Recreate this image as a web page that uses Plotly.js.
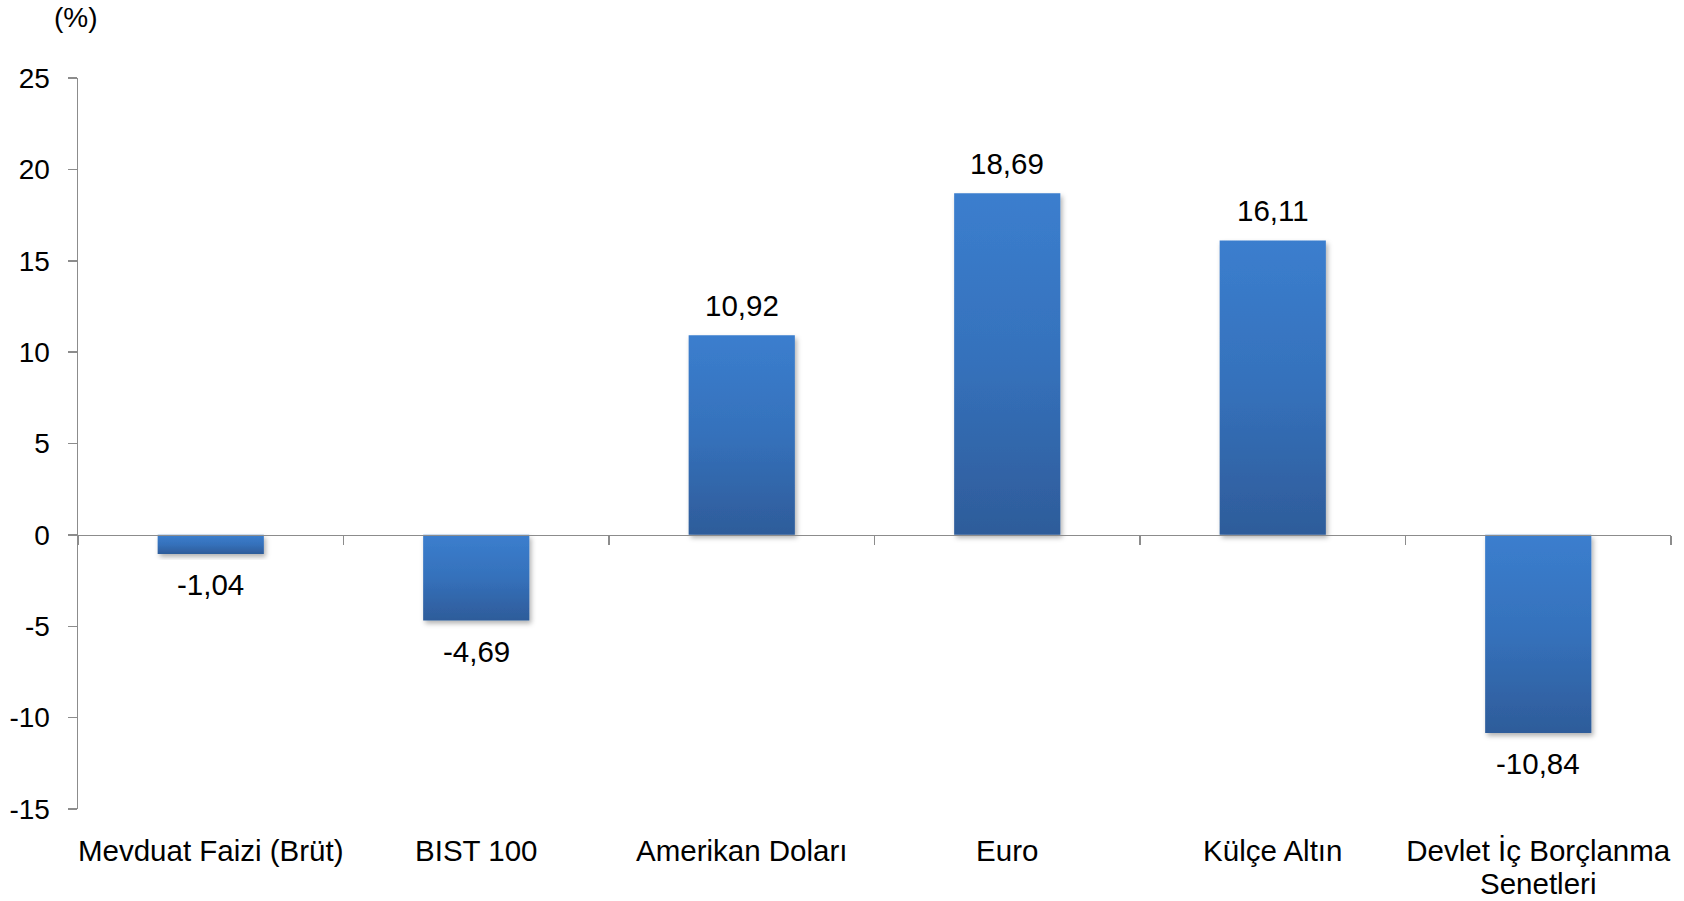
<!DOCTYPE html>
<html>
<head>
<meta charset="utf-8">
<script src="https://cdn.plot.ly/plotly-3.0.1.min.js"></script>
<style>
  html, body { margin: 0; padding: 0; background: #fff; }
  #chart { width: 1684px; height: 901px; }
</style>
</head>
<body>
<div id="chart"></div>
<script>
const categories = ["Mevduat Faizi (Brüt)", "BIST 100", "Amerikan Doları", "Euro", "Külçe Altın", "Devlet İç Borçlanma<br>Senetleri"];
const values = [-1.04, -4.69, 10.92, 18.69, 16.11, -10.84];
const yTickVals = [-15, -10, -5, 0, 5, 10, 15, 20, 25];
const yTickText = ["-15", "-10", "-5", "0", "5", "10", "15", "20", "25"];
const unitLabel = "(%)";

const FONT = "Liberation Sans, Arial, Helvetica, sans-serif";
const AXIS_COLOR = "#8c8c8c";

const fmt = v => v.toFixed(2).replace(".", ",");

const annotations = values.map((v, i) => ({
  x: categories[i], y: v, xref: "x", yref: "y",
  text: fmt(v), showarrow: false,
  yanchor: v >= 0 ? "bottom" : "top",
  yshift: v >= 0 ? 11 : -12,
  font: { family: FONT, size: 29.5, color: "#000" }
}));
annotations.push({
  xref: "paper", yref: "paper", x: 0, y: 1, xanchor: "center", yanchor: "middle",
  xshift: -2, yshift: 61,
  text: unitLabel, showarrow: false,
  font: { family: FONT, size: 28, color: "#000" }
});

const trace = {
  type: "bar", x: categories, y: values,
  width: 0.40,
  marker: { color: "#3570b8", line: { width: 0 } },
  hoverinfo: "skip", cliponaxis: false
};

const layout = {
  width: 1684, height: 901,
  margin: { l: 78, r: 13, t: 78, b: 92, pad: 0 },
  paper_bgcolor: "#fff", plot_bgcolor: "#fff",
  showlegend: false,
  font: { family: FONT, size: 28, color: "#000" },
  xaxis: {
    type: "category",
    anchor: "free", position: 15 / 40,
    showline: true, linecolor: AXIS_COLOR, linewidth: 1.5,
    ticks: "outside", tickson: "boundaries", ticklen: 9, tickcolor: AXIS_COLOR, tickwidth: 1.5,
    tickfont: { family: FONT, size: 29.5, color: "#000" },
    tickangle: 0,
    ticklabelstandoff: 289,
    showgrid: false, zeroline: false, automargin: false,
    fixedrange: true
  },
  yaxis: {
    range: [-15, 25], domain: [0, 1],
    tickvals: yTickVals, ticktext: yTickText,
    showline: true, linecolor: AXIS_COLOR, linewidth: 1.5,
    ticks: "outside", ticklen: 9, tickcolor: AXIS_COLOR, tickwidth: 1.5,
    tickfont: { family: FONT, size: 28, color: "#000" },
    ticklabelstandoff: 12,
    showgrid: false, zeroline: false, automargin: false,
    fixedrange: true
  },
  annotations: annotations
};

Plotly.newPlot("chart", [trace], layout, { staticPlot: true, displayModeBar: false }).then(gd => {
  const svg = gd.querySelector(".main-svg");
  const NS = "http://www.w3.org/2000/svg";
  let defs = svg.querySelector("defs");
  if (!defs) { defs = document.createElementNS(NS, "defs"); svg.insertBefore(defs, svg.firstChild); }
  const grad = document.createElementNS(NS, "linearGradient");
  grad.setAttribute("id", "barGrad");
  grad.setAttribute("x1", "0"); grad.setAttribute("y1", "0");
  grad.setAttribute("x2", "0"); grad.setAttribute("y2", "1");
  [["0", "#3b7ece"], ["0.5", "#3571bb"], ["1", "#2e5c9a"]].forEach(([o, c]) => {
    const s = document.createElementNS(NS, "stop");
    s.setAttribute("offset", o); s.setAttribute("stop-color", c);
    grad.appendChild(s);
  });
  defs.appendChild(grad);
  const filt = document.createElementNS(NS, "filter");
  filt.setAttribute("id", "barShadow");
  filt.setAttribute("x", "-20%"); filt.setAttribute("y", "-20%");
  filt.setAttribute("width", "150%"); filt.setAttribute("height", "150%");
  const ds = document.createElementNS(NS, "feDropShadow");
  ds.setAttribute("dx", "2"); ds.setAttribute("dy", "3");
  ds.setAttribute("stdDeviation", "2.5");
  ds.setAttribute("flood-color", "#000"); ds.setAttribute("flood-opacity", "0.3");
  filt.appendChild(ds);
  defs.appendChild(filt);
  gd.querySelectorAll(".trace.bars .point path").forEach(p => {
    p.style.fill = "url(#barGrad)";
    p.setAttribute("filter", "url(#barShadow)");
  });
  // tighter line spacing for the two-line category label, as in the reference
  gd.querySelectorAll(".xtick text tspan.line").forEach((t, i) => {
    const dy = t.getAttribute("dy");
    if (dy && parseFloat(dy) > 0) t.setAttribute("dy", "1.12em");
  });
});
</script>
</body>
</html>
